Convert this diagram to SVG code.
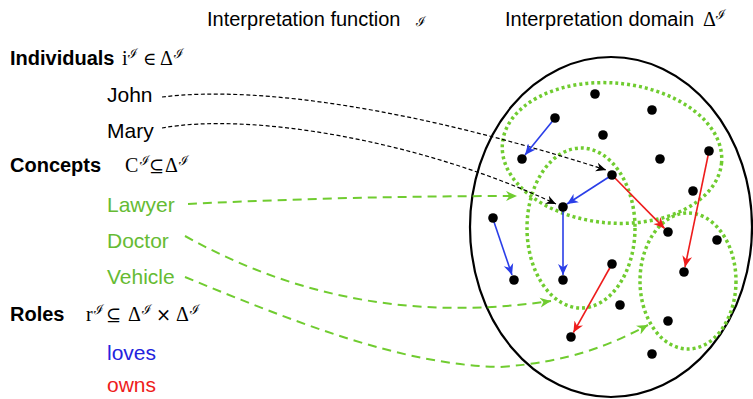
<svg xmlns="http://www.w3.org/2000/svg" width="753" height="399" viewBox="0 0 753 399">
<style>
.h{font-family:"Liberation Sans",Arial,sans-serif;font-size:20px;fill:#000}
.b{font-family:"Liberation Sans",Arial,sans-serif;font-size:20px;font-weight:bold;fill:#000}
.l{font-family:"Liberation Sans",Arial,sans-serif;font-size:21px}
.m{font-family:"Liberation Serif","DejaVu Serif",serif;font-size:20px;fill:#000}
.y{font-family:"DejaVu Serif",serif;font-size:18px;fill:#000}
.s{font-family:"DejaVu Serif",serif;font-size:13px;fill:#000}
.dot{fill:#000}
.set{fill:none;stroke:#70cc30;stroke-width:3.5;stroke-dasharray:3 3}
.blue{stroke:#2a3ee8;stroke-width:1.6;fill:none}
.red{stroke:#ee1c1c;stroke-width:1.6;fill:none}
.ind{stroke:#000;stroke-width:1.2;stroke-dasharray:4 2.5;fill:none}
.con{stroke:#70cc30;stroke-width:2;stroke-dasharray:9 6;fill:none}
</style>
<defs>
<marker id="ab" viewBox="0 0 10 10" refX="10" refY="5" markerWidth="11" markerHeight="11" markerUnits="userSpaceOnUse" orient="auto"><path d="M0,0.5 L10,5 L0,9.5 L3,5 z" fill="#2a3ee8"/></marker>
<marker id="ar" viewBox="0 0 10 10" refX="10" refY="5" markerWidth="11" markerHeight="11" markerUnits="userSpaceOnUse" orient="auto"><path d="M0,0.5 L10,5 L0,9.5 L3,5 z" fill="#ee1c1c"/></marker>
<marker id="ak" viewBox="0 0 10 10" refX="10" refY="5" markerWidth="10" markerHeight="10" markerUnits="userSpaceOnUse" orient="auto"><path d="M0,0.5 L10,5 L0,9.5 L3,5 z" fill="#000"/></marker>
<marker id="ag" viewBox="0 0 10 10" refX="10" refY="5" markerWidth="11" markerHeight="11" markerUnits="userSpaceOnUse" orient="auto"><path d="M0,0.5 L10,5 L0,9.5 L3,5 z" fill="#70cc30"/></marker>
</defs>

<g id="headings">
<text class="h" x="207" y="26">Interpretation function</text><text class="s" x="416" y="26" font-size="22">ℐ</text>
<text class="h" x="505" y="26">Interpretation domain</text><text class="m" x="703" y="26">Δ</text><text class="s" x="716" y="19">ℐ</text>
</g>

<g id="individuals-label">
<text class="b" x="10" y="65">Individuals</text>
<text class="m" x="122" y="65">i</text><text class="s" x="128" y="58">ℐ</text>
<text class="y" x="143" y="65">∈</text><text class="m" x="160" y="65">Δ</text><text class="s" x="174" y="58">ℐ</text>
</g>
<g id="john"><text class="l" x="107" y="102" fill="#000">John</text></g>
<g id="mary"><text class="l" x="107" y="138" fill="#000">Mary</text></g>

<g id="concepts-label">
<text class="b" x="10" y="172">Concepts</text>
<text class="m" x="125" y="172">C</text><text class="s" x="139.5" y="165">ℐ</text>
<text class="y" x="149" y="172">⊆</text><text class="m" x="165" y="172">Δ</text><text class="s" x="179" y="165">ℐ</text>
</g>
<g id="lawyer"><text class="l" x="107" y="212" fill="#66bb33">Lawyer</text></g>
<g id="doctor"><text class="l" x="107" y="248" fill="#66bb33">Doctor</text></g>
<g id="vehicle"><text class="l" x="107" y="284" fill="#66bb33">Vehicle</text></g>

<g id="roles-label">
<text class="b" x="10" y="321">Roles</text>
<text class="m" x="86" y="321">r</text><text class="s" x="94" y="314">ℐ</text>
<text class="y" x="106" y="321">⊆</text><text class="m" x="128" y="321">Δ</text><text class="s" x="142" y="314">ℐ</text>
<text class="y" x="156" y="321">×</text><text class="m" x="176" y="321">Δ</text><text class="s" x="190" y="314">ℐ</text>
</g>
<g id="loves"><text class="l" x="107" y="360" fill="#2323dd">loves</text></g>
<g id="owns"><text class="l" x="107" y="392" fill="#ee1c1c">owns</text></g>

<g id="domain">
<ellipse cx="611" cy="227" rx="141" ry="170" fill="none" stroke="#000" stroke-width="2.2"/>
</g>
<g id="set-lawyer"><ellipse class="set" cx="612" cy="153" rx="110" ry="70" transform="rotate(5 612 153)"/></g>
<g id="set-doctor"><ellipse class="set" cx="581" cy="228" rx="54" ry="80"/></g>
<g id="set-vehicle"><ellipse class="set" cx="688" cy="281" rx="48" ry="68"/></g>

<g id="connectors">
<path class="ind" d="M162,97 C260,85 420,110 606,170" marker-end="url(#ak)"/>
<path class="ind" d="M162,128 C250,112 420,140 556,204" marker-end="url(#ak)"/>
<path class="con" d="M188,204 Q350,196 517,196" marker-end="url(#ag)"/>
<path class="con" d="M185,236 C300,300 420,320 551,301" marker-end="url(#ag)"/>
<path class="con" d="M185,277 C290,320 400,365 500,367 C570,362 610,345 648,325" marker-end="url(#ag)"/>
<line class="blue" x1="555" y1="118" x2="525" y2="155" marker-end="url(#ab)"/>
<line class="blue" x1="612" y1="175" x2="567" y2="204" marker-end="url(#ab)"/>
<line class="blue" x1="493" y1="219" x2="512" y2="275" marker-end="url(#ab)"/>
<line class="blue" x1="563" y1="207" x2="563" y2="275" marker-end="url(#ab)"/>
<line class="red" x1="612" y1="175" x2="664.5" y2="228.4" marker-end="url(#ar)"/>
<line class="red" x1="709" y1="151" x2="685" y2="267" marker-end="url(#ar)"/>
<line class="red" x1="612" y1="264" x2="573.4" y2="332.6" marker-end="url(#ar)"/>
</g>

<g id="individuals-dots">
<circle class="dot" cx="595" cy="94" r="4.8"/>
<circle class="dot" cx="652" cy="110" r="4.8"/>
<circle class="dot" cx="555" cy="118" r="4.8"/>
<circle class="dot" cx="603" cy="135" r="4.8"/>
<circle class="dot" cx="522" cy="159" r="4.8"/>
<circle class="dot" cx="660" cy="159" r="4.8"/>
<circle class="dot" cx="709" cy="151" r="4.8"/>
<circle class="dot" cx="612" cy="175" r="4.8"/>
<circle class="dot" cx="693" cy="191" r="4.8"/>
<circle class="dot" cx="563" cy="207" r="4.8"/>
<circle class="dot" cx="493" cy="218" r="4.8"/>
<circle class="dot" cx="668" cy="232" r="4.8"/>
<circle class="dot" cx="717" cy="240" r="4.8"/>
<circle class="dot" cx="612" cy="264" r="4.8"/>
<circle class="dot" cx="514" cy="280" r="4.8"/>
<circle class="dot" cx="563" cy="280" r="4.8"/>
<circle class="dot" cx="684" cy="272" r="4.8"/>
<circle class="dot" cx="620" cy="305" r="4.8"/>
<circle class="dot" cx="668" cy="321" r="4.8"/>
<circle class="dot" cx="571" cy="337" r="4.8"/>
<circle class="dot" cx="652" cy="354" r="4.8"/>
</g>
</svg>
